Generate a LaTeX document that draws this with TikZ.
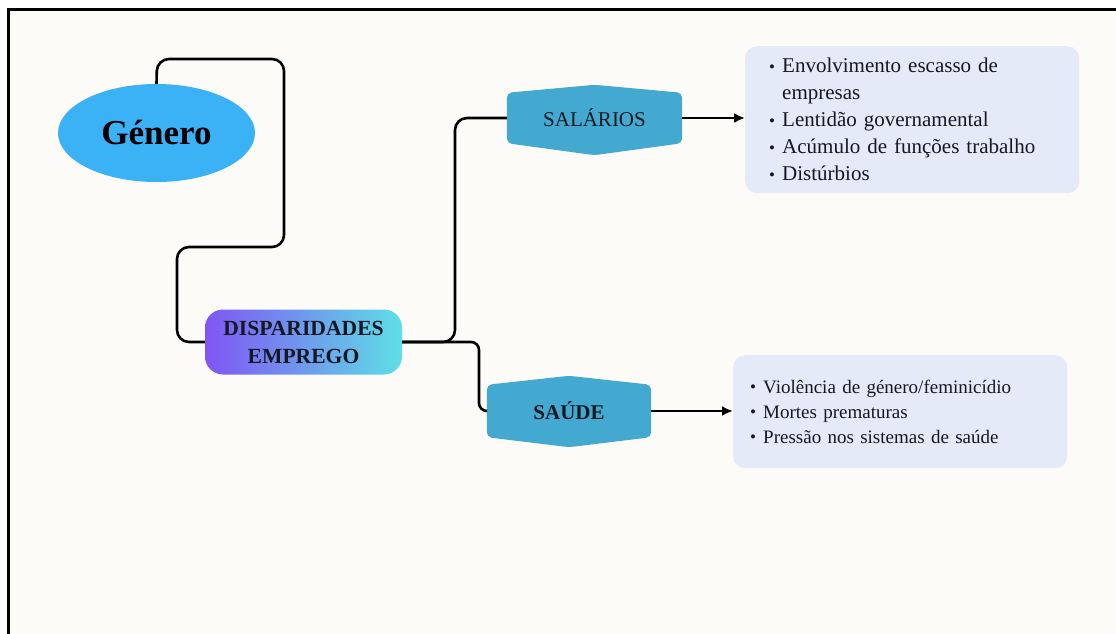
\documentclass[tikz,border=0pt]{standalone}
\usepackage{fontspec}
\setmainfont{Liberation Serif}
\usetikzlibrary{shapes.geometric,arrows.meta,backgrounds,calc}
\definecolor{cream}{HTML}{FDFBF8}
\definecolor{genblue}{HTML}{3BB1F6}
\definecolor{hexblue}{HTML}{43A9D1}
\definecolor{listbg}{HTML}{E4EAF7}
\definecolor{gradl}{HTML}{8055F5}
\definecolor{gradr}{HTML}{5EDFE6}
\definecolor{ink}{HTML}{141820}
\newcommand\lbul{\makebox[13pt][l]{\raisebox{0.5pt}{\fontsize{17}{17}\selectfont •}}}
\begin{document}
\begin{tikzpicture}[x=1pt,y=-1pt,
  conn/.style={line width=2.6pt, rounded corners=12pt, black},
  arr/.style={line width=2.6pt, -{Latex[length=11pt,width=10pt]}},
  hexnode/.style={rectangle, inner sep=0pt, text=ink, font=\fontsize{21}{24}\selectfont},
  listbox/.style={rectangle, rounded corners=12pt, fill=listbg, align=left, text=ink, anchor=north west}
]
\useasboundingbox (0,0) rectangle (1116,634);

\node[ellipse, fill=genblue, minimum width=197pt, minimum height=98pt, inner sep=0pt,
      font=\fontsize{35}{40}\selectfont\bfseries, text=black] (gen) at (156.5,133) {Género};

\node[rectangle, rounded corners=18pt, left color=gradl, right color=gradr,
      minimum width=197pt, minimum height=65pt, inner sep=0pt, align=center,
      font=\fontsize{21.6}{28}\selectfont\bfseries, text=ink] (disp) at (303.5,342) {DISPARIDADES\\EMPREGO};

\node[hexnode, minimum width=175pt, minimum height=50pt] (sal) at (594.5,118) {SALÁRIOS};
\node[hexnode, minimum width=164pt, minimum height=52pt, font=\fontsize{21}{24}\selectfont\bfseries] (sau) at (569,411) {SAÚDE};

\node[listbox, minimum width=334pt, minimum height=147pt, text width=286pt, inner xsep=24pt,
      font=\fontsize{21}{27}\selectfont] (salbox) at (745,46)
  {\lbul Envolvimento escasso de\\
   \hspace*{13pt}empresas\\
   \lbul Lentidão governamental\\
   \lbul Acúmulo de funções trabalho\\
   \lbul Distúrbios};

\node[listbox, minimum width=334pt, minimum height=113pt, text width=300pt, inner xsep=17pt,
      font=\fontsize{19}{25}\selectfont] (saubox) at (733,355)
  {\lbul Violência de género/feminicídio\\
   \lbul Mortes prematuras\\
   \lbul Pressão nos sistemas de saúde};

\draw[conn] (gen.north) -- (157,59) -- (284,59) -- (284,247) -- (177,247) -- (177,342) -- (disp.west);
\draw[conn] (disp.east) -- (455,342) -- (455,118) -- (sal.west);
\draw[conn, rounded corners=8pt] (disp.east) -- (479,342) -- (479,411) -- (sau.west);
\draw[arr] (sal.east) -- (salbox.west |- sal.east);
\draw[arr] (sau.east) -- (saubox.west |- sau.east);

\begin{pgfonlayer}{background}
  \fill[white] (0,0) rectangle (1116,634);
  \fill[cream] (8,10) rectangle (1116,634);
  \draw[line width=3pt] (8,634) -- (8,10) -- (1116,10);
  \fill[hexblue, rounded corners=5pt] (sal.north west) -- ($(sal.north)+(0,-8)$) -- (sal.north east)
     -- (sal.south east) -- ($(sal.south)+(0,12)$) -- (sal.south west) -- cycle;
  \fill[hexblue, rounded corners=5pt] (sau.north west) -- ($(sau.north)+(0,-9)$) -- (sau.north east)
     -- (sau.south east) -- ($(sau.south)+(0,10)$) -- (sau.south west) -- cycle;
\end{pgfonlayer}
\end{tikzpicture}
\end{document}
